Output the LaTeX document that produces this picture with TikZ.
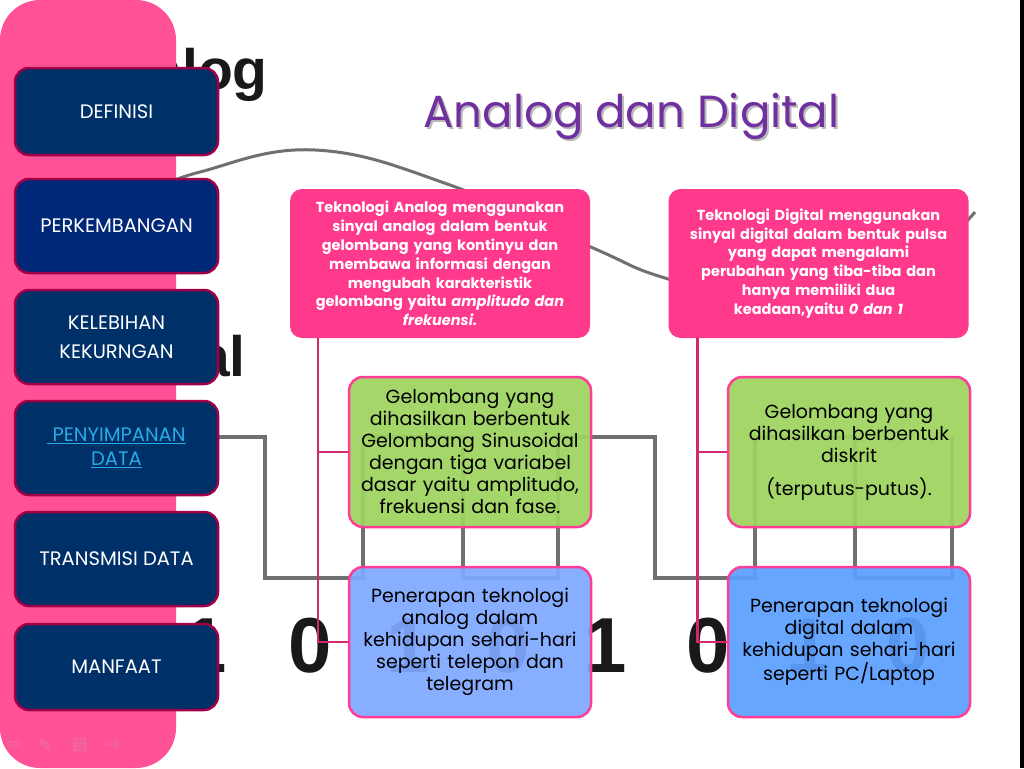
\documentclass[tikz,border=0pt]{standalone}
\usepackage{fontspec}
\setmainfont{Poppins}
\newfontfamily\bgfont{Liberation Sans}
\newfontfamily\iconfont{DejaVu Sans}
\usepackage{tikz}
\usetikzlibrary{positioning}
\definecolor{sidepink}{RGB}{255,82,150}
\definecolor{iconpink}{RGB}{238,112,162}
\definecolor{headpink}{RGB}{255,58,140}
\definecolor{edgepink}{RGB}{255,60,150}
\definecolor{navyfill}{RGB}{0,48,104}
\definecolor{navyblue}{RGB}{0,40,120}
\definecolor{navedge}{RGB}{160,0,72}
\definecolor{leafgreen}{RGB}{158,211,94}
\definecolor{paleblue}{RGB}{128,168,255}
\definecolor{skyblue}{RGB}{92,160,255}
\definecolor{linkred}{RGB}{210,40,110}
\definecolor{titlepurple}{RGB}{112,48,160}
\definecolor{linkcyan}{RGB}{40,170,230}
\definecolor{wavegray}{RGB}{112,112,112}

\begin{document}
\begin{tikzpicture}[x=1pt,y=-1pt,
    navbox/.style={draw=navedge,line width=2.5pt,fill=navyfill,rounded corners=14pt,
                   minimum width=203pt,text=white,align=center,
                   font=\fontsize{19.5}{24}\selectfont},
    headbox/.style={fill=headpink,rounded corners=12pt,minimum width=300pt,
                    minimum height=149pt,text width=294pt,inner sep=2pt,align=center,
                    text=white,font=\bfseries\fontsize{14.5}{18.8}\selectfont},
    infobox/.style={draw=edgepink,line width=2.5pt,rounded corners=14pt,
                    minimum width=242pt,minimum height=150pt,text width=238pt,inner sep=2pt,
                    align=center,fill opacity=0.93,text opacity=1,
                    font=\fontsize{19}{22}\selectfont},
    trunk/.style={draw=linkred,line width=2.5pt},
    bigtext/.style={text=black!90,inner sep=0pt,
                    font=\bgfont\bfseries\fontsize{57}{57}\selectfont},
    digit/.style={text=black!90,inner sep=0pt,anchor=base,
                  font=\bgfont\bfseries\fontsize{78}{78}\selectfont}]
  \useasboundingbox (0,0) rectangle (1024,768);
  \fill[white] (0,0) rectangle (1024,768);
  % faded signal picture behind the slide
  \node[bigtext,anchor=base east] (bganalog) at (268,89) {Analog};
  \node[bigtext,anchor=base east] (bgdigital) at (246,376) {Digital};
  \foreach \x/\b [count=\i] in {205/1,310/0,408/1,508/0,605/1,708/0,808/1,908/0}
    \node[digit] (bit\i) at (\x,672) {\b};
  \draw[wavegray,line width=3pt] plot[smooth,tension=0.7] coordinates
    {(150,192) (200,172) (315,150) (450,185) (593,248) (665,278) (780,305) (900,275) (975,212)};
  \draw[wavegray,line width=3.5pt] (150,437) -- (265,437) -- (265,578) -- (363,578)
    -- (363,437) -- (463,437) -- (463,578) -- (558,578) -- (558,437) -- (655,437)
    -- (655,578) -- (755,578) -- (755,437) -- (855,437) -- (855,578) -- (952,578)
    -- (952,437);
  % side bar
  \fill[sidepink,rounded corners=40pt] (0,0) rectangle (176,768);
  \foreach \x/\s [count=\i] in {14/⇦,45/✎,80/▤,113/⇨}
    \node[text=iconpink,font=\iconfont\fontsize{17}{17}\selectfont] (icon\i) at (\x,745) {\s};
  \node[navbox,minimum height=87pt] (definisi) at (116.5,111.5) {DEFINISI};
  \node[navbox,fill=navyblue,minimum height=94pt] (perkembangan) at (116.5,226) {PERKEMBANGAN};
  \node[navbox,minimum height=94pt,font=\fontsize{19.5}{29}\selectfont] (kelebihan) at (116.5,337)
    {KELEBIHAN\\KEKURNGAN};
  \node[navbox,minimum height=94pt,text=linkcyan] (penyimpanan) at (116.5,448)
    {\underline{\ PENYIMPANAN}\\\underline{DATA}};
  \node[navbox,minimum height=94pt] (transmisi) at (116.5,559) {TRANSMISI DATA};
  \node[navbox,minimum height=86pt] (manfaat) at (116.5,667) {MANFAAT};
  % title
  \node[anchor=base,text=gray!55,font=\fontsize{45}{45}\selectfont] (titleshade) at (633.5,129)
    {Analog dan Digital};
  \node[anchor=base,text=titlepurple,font=\fontsize{45}{45}\selectfont] (title) at (631.5,127)
    {Analog dan Digital};
  % analog column
  \node[headbox] (ahead) at (440,263.5)
    {Teknologi Analog menggunakan\\ sinyal analog dalam bentuk\\ gelombang yang kontinyu dan\\
     membawa informasi dengan\\ mengubah karakteristik\\ gelombang yaitu \textit{amplitudo dan}\\
     \textit{frekuensi.}};
  \node[infobox,fill=leafgreen] (agreen) at (470,452)
    {Gelombang yang\\ dihasilkan berbentuk\\ Gelombang Sinusoidal\\ dengan tiga variabel\\
     dasar yaitu amplitudo,\\ frekuensi dan fase.};
  \node[infobox,fill=paleblue] (ablue) at (470,642)
    {Penerapan teknologi\\ analog dalam\\ kehidupan sehari-hari\\ seperti telepon dan\\ telegram};
  \draw[trunk] ([xshift=28pt]ahead.south west) |- (agreen.west);
  \draw[trunk] ([xshift=28pt]ahead.south west) |- (ablue.west);
  % digital column
  \node[headbox] (dhead) at (818.5,263.5)
    {Teknologi Digital menggunakan\\ sinyal digital dalam bentuk pulsa\\ yang dapat mengalami\\
     perubahan yang tiba-tiba dan\\ hanya memiliki dua\\ keadaan,yaitu \textit{0 dan 1}};
  \node[infobox,fill=leafgreen] (dgreen) at (849,452)
    {Gelombang yang\\ dihasilkan berbentuk\\ diskrit\\[11pt] (terputus-putus).};
  \node[infobox,fill=skyblue] (dblue) at (849,642)
    {Penerapan teknologi\\ digital dalam\\ kehidupan sehari-hari\\ seperti PC/Laptop};
  \draw[trunk] ([xshift=29pt]dhead.south west) |- (dgreen.west);
  \draw[trunk] ([xshift=29pt]dhead.south west) |- (dblue.west);
  \fill[black] (1020,0) rectangle (1024,768);
\end{tikzpicture}
\end{document}
